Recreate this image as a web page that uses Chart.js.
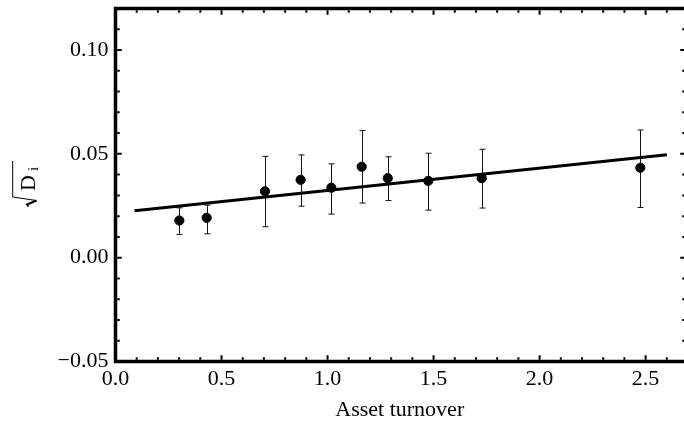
<!DOCTYPE html>
<html>
<head>
<meta charset="utf-8">
<script src="https://cdn.jsdelivr.net/npm/chart.js@4"></script>
<style>
  html, body { margin: 0; padding: 0; background: #fff; overflow: hidden; }
  #wrap { width: 684px; height: 421px; }
</style>
</head>
<body>
<div id="wrap"><canvas id="chart" width="684" height="421"></canvas></div>
<script>
// Data
const turnover = [0.301, 0.430, 0.705, 0.873, 1.018, 1.161, 1.284, 1.475, 1.727, 2.475];
const sqrtD = [0.0179, 0.0192, 0.0320, 0.0375, 0.0337, 0.0438, 0.0383, 0.0370, 0.0383, 0.0433];
const errLow = [0.0112, 0.0115, 0.0149, 0.0248, 0.0210, 0.0263, 0.0275, 0.0229, 0.0239, 0.0242];
const errHigh = [0.0240, 0.0253, 0.0488, 0.0495, 0.0452, 0.0612, 0.0486, 0.0503, 0.0522, 0.0615];

// Fitted line end points
const fitX = [0.09, 2.6];
const fitY = [0.0226, 0.0496];

// Axis ticks
const xTicks = [0, 0.5, 1.0, 1.5, 2.0, 2.5];
const yTicks = [-0.05, 0, 0.05, 0.10];
const xMinorStep = 0.1;
const yMinorStep = 0.01;

const FONT = "'Liberation Serif', 'DejaVu Serif', serif";

function noPad(axis) {
  axis.paddingTop = 0;
  axis.paddingBottom = 0;
  axis.paddingLeft = 0;
  axis.paddingRight = 0;
}

// Frame, inward ticks, error bars and the y title
const framePlugin = {
  id: 'frame',
  beforeDatasetsDraw(chart) {
    const ctx = chart.ctx;
    const xs = chart.scales.x, ys = chart.scales.y;
    ctx.save();
    ctx.strokeStyle = '#111';
    ctx.lineWidth = 1;
    turnover.forEach((t, i) => {
      const px = Math.round(xs.getPixelForValue(t)) + 0.5;
      const lo = ys.getPixelForValue(errLow[i]);
      const hi = ys.getPixelForValue(errHigh[i]);
      ctx.beginPath();
      ctx.moveTo(px, lo); ctx.lineTo(px, hi);
      ctx.moveTo(px - 3, lo); ctx.lineTo(px + 3, lo);
      ctx.moveTo(px - 3, hi); ctx.lineTo(px + 3, hi);
      ctx.stroke();
    });
    ctx.restore();
  },
  afterDraw(chart) {
    const ctx = chart.ctx;
    const ca = chart.chartArea;
    const xs = chart.scales.x, ys = chart.scales.y;
    const fw = 3.5, half = fw / 2;
    // the right side of the frame lies just past the canvas edge
    const rightX = ca.right + 2.5;
    ctx.save();
    ctx.strokeStyle = '#000';
    ctx.lineWidth = fw;
    ctx.lineCap = 'square';
    ctx.beginPath();
    ctx.moveTo(ca.left, ca.top); ctx.lineTo(rightX, ca.top);
    ctx.lineTo(rightX, ca.bottom); ctx.lineTo(ca.left, ca.bottom);
    ctx.closePath();
    ctx.stroke();

    ctx.lineCap = 'butt';
    ctx.lineWidth = 2;
    ctx.beginPath();
    for (let k = 1; k * xMinorStep < xs.max; k++) {
      const v = k * xMinorStep;
      const len = k % 5 === 0 ? 4.5 : 2.5;
      const px = xs.getPixelForValue(v);
      ctx.moveTo(px, ca.bottom - half); ctx.lineTo(px, ca.bottom - half - len);
      ctx.moveTo(px, ca.top + half); ctx.lineTo(px, ca.top + half + len);
    }
    for (let k = 1; ys.min + k * yMinorStep < ys.max - 1e-9; k++) {
      const v = ys.min + k * yMinorStep;
      const len = k % 5 === 0 ? 4.5 : 2.5;
      const py = ys.getPixelForValue(v);
      ctx.moveTo(ca.left + half, py); ctx.lineTo(ca.left + half + len, py);
      ctx.moveTo(rightX - half, py); ctx.lineTo(rightX - half - len, py);
    }
    ctx.stroke();

    // y axis title: sqrt(D_i), text runs bottom to top
    ctx.translate(35, 184);
    ctx.rotate(-Math.PI / 2);
    ctx.fillStyle = '#000';
    ctx.textBaseline = 'alphabetic';
    ctx.font = '22px ' + FONT;
    ctx.fillText('D', -7, 0);
    ctx.font = '15px ' + FONT;
    ctx.fillText('i', 13, 3);
    // radical sign
    ctx.lineJoin = 'miter';
    ctx.lineWidth = 2;
    ctx.beginPath();
    ctx.moveTo(-22.5, -6.5); ctx.lineTo(-20.5, -8); ctx.lineTo(-16.5, 1.5);
    ctx.stroke();
    ctx.lineWidth = 1;
    ctx.beginPath();
    ctx.moveTo(-16.5, 1.5); ctx.lineTo(-13, -22.3); ctx.lineTo(23, -22.3);
    ctx.stroke();
    ctx.restore();
  }
};

new Chart(document.getElementById('chart'), {
  type: 'scatter',
  data: {
    datasets: [
      {
        data: turnover.map((t, i) => ({ x: t, y: sqrtD[i] })),
        backgroundColor: '#000',
        borderColor: '#000',
        pointRadius: 4.6,
        pointHoverRadius: 4.6,
        order: 0
      },
      {
        type: 'line',
        data: fitX.map((t, i) => ({ x: t, y: fitY[i] })),
        borderColor: '#000',
        borderWidth: 3,
        pointRadius: 0,
        fill: false,
        order: 1
      }
    ]
  },
  options: {
    responsive: false,
    animation: false,
    devicePixelRatio: 1,
    layout: { autoPadding: false, padding: { top: 8.5, right: 0, left: 0, bottom: 0 } },
    plugins: { legend: { display: false }, tooltip: { enabled: false } },
    scales: {
      x: {
        type: 'linear',
        min: 0,
        max: 2.681,
        grid: { display: false, drawTicks: false },
        border: { display: false },
        afterBuildTicks: axis => { axis.ticks = xTicks.map(v => ({ value: v })); },
        afterFit: axis => { axis.height = 59.5; noPad(axis); },
        ticks: {
          color: '#000',
          padding: 5,
          maxRotation: 0,
          autoSkip: false,
          font: { family: FONT, size: 22 },
          callback: v => v.toFixed(1)
        },
        title: {
          display: true,
          text: 'Asset turnover',
          color: '#000',
          padding: { top: 0, bottom: 0 },
          font: { family: FONT, size: 22, lineHeight: 1 }
        }
      },
      y: {
        type: 'linear',
        min: -0.05,
        max: 0.12,
        grid: { display: false, drawTicks: false },
        border: { display: false },
        afterBuildTicks: axis => { axis.ticks = yTicks.map(v => ({ value: v })); },
        afterFit: axis => { axis.width = 115.5; noPad(axis); },
        ticks: {
          color: '#000',
          padding: 7,
          autoSkip: false,
          font: { family: FONT, size: 22 },
          callback: v => (v < 0 ? '\u2212' : '') + Math.abs(v).toFixed(2)
        }
      }
    }
  },
  plugins: [framePlugin]
});
</script>
</body>
</html>
